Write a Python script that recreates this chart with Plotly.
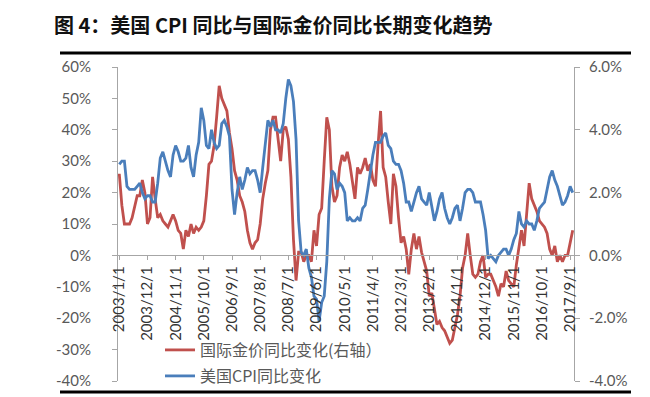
import plotly.graph_objects as go

# ---------------- data ----------------
n_months = 178  # 2003/1 .. 2017/10

gold_yoy = [
    26, 16, 10, 10, 10, 12, 16, 19, 19, 24, 20, 10,
    12, 25, 18, 12, 13, 11, 10, 9, 11, 13, 11, 8,
    7, 2, 8, 6, 10, 7, 9, 8, 9, 11, 19, 29,
    30, 35, 44, 54, 50, 48, 46, 39, 34, 27, 24, 19,
    17, 14, 8, 4, 2, 4, 5, 10, 18, 23, 27, 40,
    44, 44, 37, 30, 40, 41, 37, 25, 5, -8, 1, 1,
    -2, 0, 0, -2, 8, 3, 13, 15, 30, 44, 40, 22,
    17, 19, 28, 32, 30, 33, 29, 24, 18, 28, 26, 28,
    31, 27, 29, 24, 22, 35, 46, 28, 25, 17, 10, 26,
    22, 12, 4, 6, 2, -6, 2, 7, 2, 6, 1, -2,
    -5, -13, -12, -17, -22, -21, -23, -24, -26, -28, -27, -23,
    -19, -13, -4, 0, 7, 0, -6, -7, -6, -2, 0, -7,
    -6, -6, -8, -10, -13, -9, -10, -5, -8, -9, -10, -3,
    3, 8, 3, 12, 23, 18, 16, 14, 11, 10, 9, 7,
    2, 0, 3, -2, 0, -2, 0, 0, 4, 8,
]

cpi_yoy = [
    2.9, 3.0, 3.0, 2.2, 2.1, 2.1, 2.1, 2.2, 2.3, 2.0, 1.8, 1.9,
    1.9, 1.7, 1.7, 2.3, 3.1, 3.3, 3.0, 2.7, 2.5, 3.2, 3.5, 3.3,
    3.0, 3.0, 3.1, 3.5, 2.8, 2.5, 3.2, 3.6, 4.7, 4.3, 3.5, 3.4,
    4.0, 3.6, 3.4, 3.5, 4.2, 4.3, 4.1, 3.8, 2.1, 1.3, 2.0, 2.5,
    2.1, 2.4, 2.8, 2.6, 2.7, 2.7, 2.4, 2.0, 2.8, 3.5, 4.3, 4.1,
    4.3, 4.0, 4.0, 3.9, 4.2, 5.0, 5.6, 5.4, 4.9, 3.7, 1.1, 0.1,
    0.0, 0.2, -0.4, -0.7, -1.3, -1.4, -2.1, -1.5, -1.3, -0.2, 1.8, 2.7,
    2.6, 2.1, 2.3, 2.2, 2.0, 1.1, 1.2, 1.1, 1.1, 1.2, 1.1, 1.5,
    1.6, 2.1, 2.7, 3.2, 3.6, 3.6, 3.6, 3.8, 3.9, 3.5, 3.4, 3.0,
    2.9, 2.9, 2.7, 2.3, 1.7, 1.7, 1.4, 1.7, 2.0, 2.2, 1.8, 1.7,
    1.6, 2.0, 1.5, 1.1, 1.4, 1.8, 2.0, 1.5, 1.2, 1.0, 1.2, 1.5,
    1.6, 1.1, 1.5, 2.0, 2.1, 2.1, 2.0, 1.7, 1.7, 1.7, 1.3, 0.8,
    -0.1, 0.0, -0.1, -0.2, 0.0, 0.1, 0.2, 0.2, 0.0, 0.2, 0.5, 0.7,
    1.4, 1.0, 0.9, 1.1, 1.0, 1.0, 0.8, 1.1, 1.5, 1.6, 1.7, 2.1,
    2.5, 2.7, 2.4, 2.2, 1.9, 1.6, 1.7, 1.9, 2.2, 2.0,
]

x_labels = ["2003/1/1", "2003/12/1", "2004/11/1", "2005/10/1", "2006/9/1",
            "2007/8/1", "2008/7/1", "2009/6/1", "2010/5/1", "2011/4/1",
            "2012/3/1", "2013/2/1", "2014/1/1", "2014/12/1", "2015/11/1",
            "2016/10/1", "2017/9/1"]
x_label_idx = [0, 11, 22, 33, 44, 55, 66, 77, 88, 99, 110, 121, 132, 143, 154, 165, 176]

left_ticks = [-40, -30, -20, -10, 0, 10, 20, 30, 40, 50, 60]
left_ticktext = ["-40%", "-30%", "-20%", "-10%", "0%", "10%", "20%", "30%", "40%", "50%", "60%"]
right_ticks = [-4, -2, 0, 2, 4, 6]
right_ticktext = ["-4.0%", "-2.0%", "0.0%", "2.0%", "4.0%", "6.0%"]

title_text = "图 4：美国 CPI 同比与国际金价同比长期变化趋势"
name_gold = "国际金价同比变化(右轴）"
name_cpi = "美国CPI同比变化"

months = list(range(n_months))

# ---------------- layout constants (screen pixels) ----------------
W, H = 650, 397
OFFX, OFFY = 0, 8                     # observed page offset of the graph
PL, PR, PT, PB = 110, 566, 67, 381    # plot box edges as seen on screen
Y_LO, Y_HI = -40, 60


def fx(X):  # screen pixel x -> figure fraction
    return (X - OFFX) / W


def fy(Y):  # screen pixel y (from top) -> figure fraction
    return 1 - (Y - OFFY) / H


zero_pos = fy(PB) + (0 - Y_LO) / (Y_HI - Y_LO) * (fy(PT) - fy(PB))

RED = "#C0504D"
BLUE = "#4A7EBB"
AXIS = "#A6A6A6"
TICKC = "#595959"
NUMFONT = "Lato, Liberation Sans, sans-serif"
CJK = "Noto Sans CJK SC, sans-serif"

fig = go.Figure()
fig.add_trace(go.Scatter(x=months, y=gold_yoy, mode="lines", name=name_gold,
                         line=dict(color=RED, width=2.8), yaxis="y", legend="legend"))
fig.add_trace(go.Scatter(x=months, y=cpi_yoy, mode="lines", name=name_cpi,
                         line=dict(color=BLUE, width=2.8), yaxis="y2", legend="legend2"))

fig.update_layout(
    width=W, height=H,
    margin=dict(l=0, r=0, t=0, b=0, autoexpand=False),
    paper_bgcolor="white", plot_bgcolor="white",
    showlegend=True,
    title=dict(text="<b>" + title_text + "</b>", xref="container", yref="container",
               x=fx(46), y=fy(26), xanchor="left", yanchor="middle",
               font=dict(family=CJK, size=20, color="#111")),
    xaxis=dict(domain=[fx(PL), fx(PR)], range=[-0.5, n_months - 0.5],
               tickmode="array", tickvals=x_label_idx,
               ticktext=x_labels, tickangle=-90, anchor="free", position=zero_pos,
               showline=True, linecolor=AXIS, linewidth=1, ticks="outside",
               ticklen=4, tickcolor=AXIS, showgrid=False, zeroline=False,
               automargin=False,
               tickfont=dict(family=NUMFONT, size=15, color="#333")),
    yaxis=dict(domain=[fy(PB), fy(PT)], range=[Y_LO, Y_HI], tickmode="array",
               tickvals=left_ticks, ticktext=left_ticktext, showline=True,
               linecolor=AXIS, linewidth=1, ticks="outside", ticklen=5,
               tickcolor=AXIS, showgrid=False, zeroline=False,
               ticklabelstandoff=18, automargin=False,
               tickfont=dict(family=NUMFONT, size=15, color=TICKC)),
    yaxis2=dict(range=[-4, 6], tickmode="array", tickvals=right_ticks,
                ticktext=right_ticktext, overlaying="y", side="right",
                showline=True, linecolor=AXIS, linewidth=1, ticks="outside",
                ticklen=5, tickcolor=AXIS, showgrid=False, zeroline=False,
                ticklabelstandoff=6, automargin=False,
                tickfont=dict(family=NUMFONT, size=15, color=TICKC)),
    legend=dict(xref="container", yref="container", x=fx(152), y=fy(350),
                xanchor="left", yanchor="middle", bgcolor="rgba(0,0,0,0)",
                font=dict(family=CJK, size=16, color=TICKC)),
    legend2=dict(xref="container", yref="container", x=fx(152), y=fy(376),
                 xanchor="left", yanchor="middle", bgcolor="rgba(0,0,0,0)",
                 font=dict(family=CJK, size=16, color=TICKC)),
    shapes=[
        dict(type="line", xref="paper", yref="paper", layer="above",
             x0=fx(52), x1=fx(623), y0=fy(Y), y1=fy(Y),
             line=dict(color="black", width=3))
        for Y in (53, 392)
    ],
)

fig.write_html("out.html")
